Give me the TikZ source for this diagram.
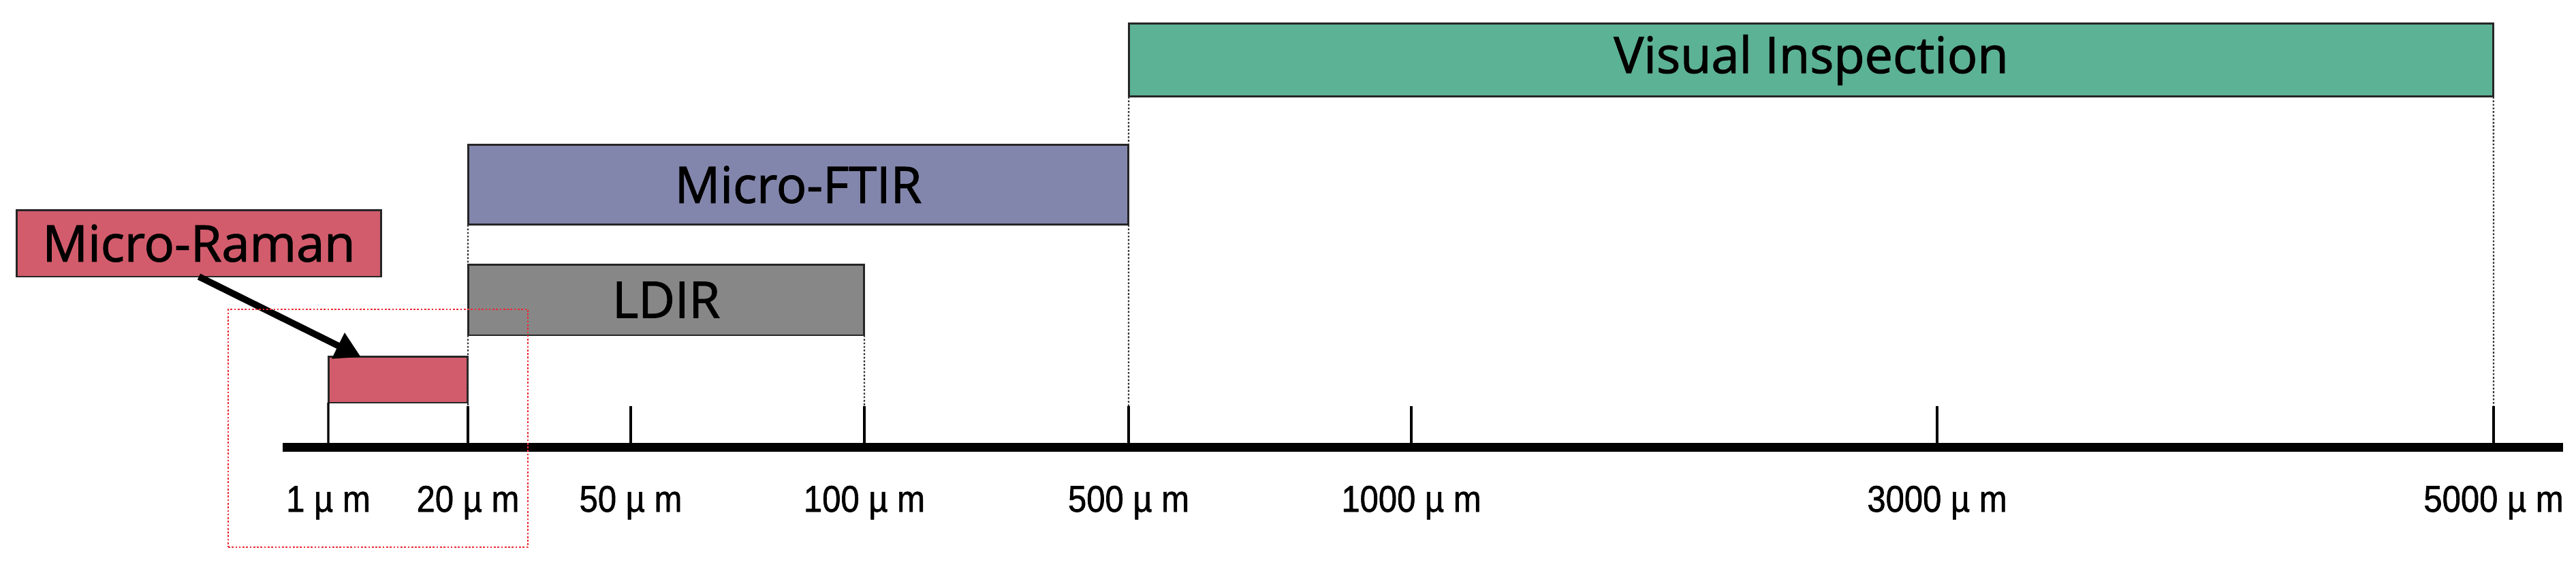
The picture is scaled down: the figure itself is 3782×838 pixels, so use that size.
\documentclass[tikz,border=0pt]{standalone}
\usepackage{fontspec}
\setmainfont{Open Sans}
\newfontfamily\boxfont{Open Sans}[BoldFont={Open Sans}, BoldFeatures={FakeBold=1.5}]
\newfontfamily\axisfont{Liberation Sans}[BoldFont={Liberation Sans}, BoldFeatures={FakeBold=1.2}]
\usetikzlibrary{arrows.meta}
\definecolor{visgreen}{RGB}{92,178,148}
\definecolor{ftirblue}{RGB}{131,134,172}
\definecolor{ldirgray}{RGB}{135,135,135}
\definecolor{ramanred}{RGB}{210,92,108}
\definecolor{dotred}{RGB}{235,40,50}
\begin{document}
\begin{tikzpicture}[x=0.02cm,y=-0.02cm,
  bar/.style={draw=black!85, line width=1.7pt, inner sep=0pt, outer sep=0pt, font=\boxfont\bfseries\fontsize{42}{50}\selectfont},
  vline/.style={black!80, line width=1.3pt, dash pattern=on 1.5pt off 1.5pt},
  tickline/.style={black, line width=1.8pt},
  axisline/.style={black, line width=7.4pt},
  lab/.style={font=\axisfont\bfseries\fontsize{31}{36}\selectfont, inner sep=0pt, anchor=base},
  zoombox/.style={draw=dotred, line width=1.4pt, dash pattern=on 1.5pt off 1.5pt, inner sep=0pt, outer sep=0pt},
  pointer/.style={black, line width=5.5pt, -{Triangle[length=0.75cm,width=0.8cm]}}
]
\useasboundingbox[fill=white] (0,0) rectangle (3782,838);

% bars
\node[bar, fill=visgreen, minimum width=40.08cm, minimum height=2.16cm] (vis) at (2659,88) {Visual Inspection};
\node[bar, fill=ftirblue, minimum width=19.4cm, minimum height=2.36cm] (ftir) at (1172,271) {Micro-FTIR};
\node[bar, fill=ldirgray, minimum width=11.64cm, minimum height=2.08cm] (ldir) at (978,440) {LDIR};
\node[bar, fill=ramanred, minimum width=10.72cm, minimum height=1.96cm] (rlab) at (292,357) {Micro-Raman};
\node[bar, fill=ramanred, minimum width=4.1cm, minimum height=1.36cm] (rbar) at (584.5,557) {};

% axis
\coordinate (axL) at (415,656);
\coordinate (axR) at (3763,656);

% ticks and labels
\foreach \i/\x/\t in {1/482/1, 2/687/20, 3/926/50, 4/1269/100, 5/1657/500, 6/2072/1000, 7/2844/3000, 8/3661/5000}{
  \coordinate (tt\i) at (\x,596);
  \coordinate (tb\i) at (\x,656);
  \node[lab] (l\i) at (\x,751) {\scalebox{0.9}[1]{\t\ µ m}};
}
\draw[tickline] (rbar.south west) -- (tb1);
\foreach \i in {2,...,8}{ \draw[tickline] (tt\i) -- (tb\i); }
\draw[axisline] (axL) -- (axR);

% dotted guide lines
\draw[vline] (ftir.south west) -- (ldir.north west);
\draw[vline] (ldir.south west) -- (tt2);
\draw[vline] (ldir.south east) -- (tt4);
\draw[vline] (vis.south west) -- (ftir.north east);
\draw[vline] (ftir.south east) -- (tt5);
\draw[vline] (vis.south east) -- (tt8);

% pointer arrow
\coordinate (tip) at (530,524);
\draw[pointer] (rlab.south) -- (tip);

% red dotted zoom frame
\node[zoombox, minimum width=8.8cm, minimum height=6.98cm] (zoom) at (555,628.5) {};
\end{tikzpicture}
\end{document}
